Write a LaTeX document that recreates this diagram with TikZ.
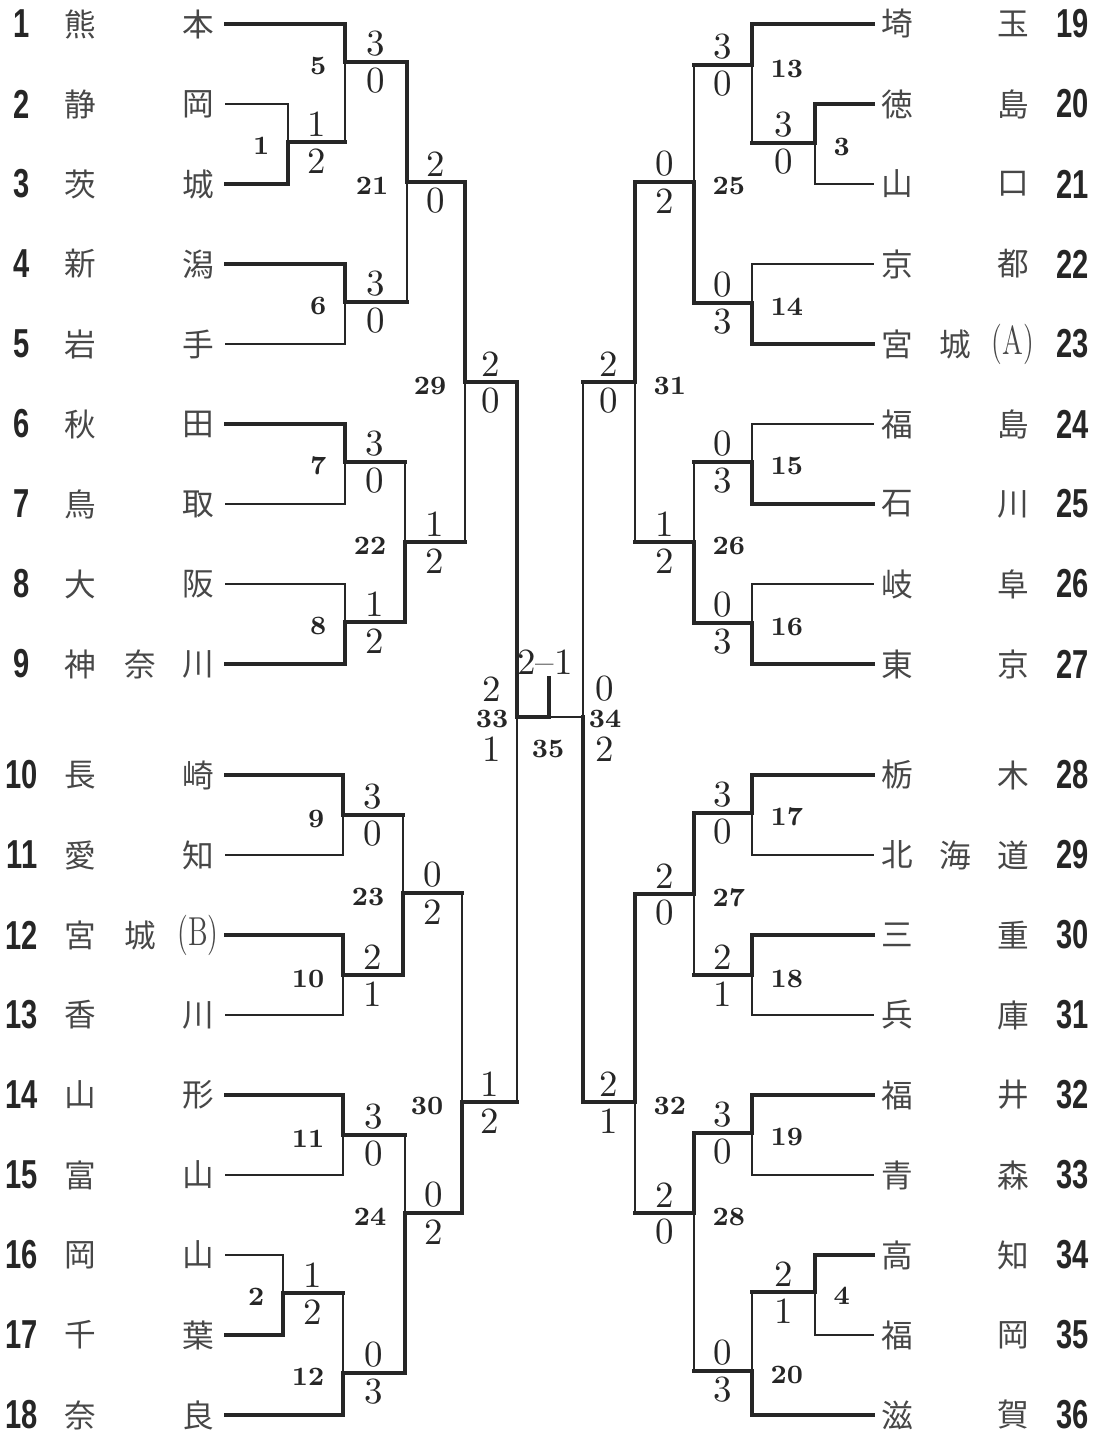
\documentclass[tikz,border=0pt]{standalone}
\usepackage{fontspec}
\usepackage{graphicx}
\newfontfamily\jpfont{Noto Sans CJK JP}
\newfontfamily\seedfont{Liberation Sans}
\definecolor{ink}{RGB}{38,38,38}
\newcommand{\seedno}[1]{\scalebox{0.72}[1]{#1}}
\newcommand{\subtag}[1]{{\rmfamily\fontsize{11.5}{12}\selectfont\scalebox{0.7}[1]{(#1)}}}

\begin{document}
\begin{tikzpicture}[x=0.01cm, y=-0.01cm,
  won/.style={draw=ink, line width=0.9pt, line cap=rect},
  lost/.style={draw=ink, line width=0.4pt, line cap=rect},
  seed/.style={font=\seedfont\bfseries\fontsize{11.5}{12}\selectfont, text=ink, inner sep=0pt},
  pref/.style={font=\jpfont\fontsize{9}{10}\selectfont, text=ink!85, inner sep=1pt},
  score/.style={font=\fontsize{10.5}{11}\selectfont, text=ink, inner sep=0pt},
  mno/.style={font=\bfseries\fontsize{7.5}{8}\selectfont, text=ink, inner sep=0pt}]
% pixel grid of the scan: x right, y down, 80 px per entry row
\useasboundingbox (0,0) rectangle (1100,1435);

% Left half: seed / first char / last char / row y / first bracket x / line
\foreach \n/\a/\c/\y/\vx/\s in {
  1/熊/本/24/345/won, 2/静/岡/104/288/lost, 3/茨/城/184/288/won,
  4/新/潟/264/345/won, 5/岩/手/344/345/lost, 6/秋/田/424/345/won,
  7/鳥/取/504/345/lost, 8/大/阪/584/345/lost, 9/神/川/664/345/won,
  10/長/崎/775/343/won, 11/愛/知/855/343/lost, 12/宮/\subtag{B}/935/343/won,
  13/香/川/1015/343/lost, 14/山/形/1095/343/won, 15/富/山/1175/343/lost,
  16/岡/山/1255/283/lost, 17/千/葉/1335/283/won, 18/奈/良/1415/343/won}{
  \node[seed] (ln\n) at (22,\y) {\seedno{\n}};
  \node[pref] (la\n) at (80,\y) {\a};
  \node[pref] (lc\n) at (198,\y) {\c};
  \draw[\s] (226,\y) -- (\vx,\y);
}
\node[pref] (lm9) at (140,664) {奈};
\node[pref] (lm12) at (140,935) {城};

% Right half, mirrored
\foreach \n/\a/\c/\y/\vx/\s in {
  19/埼/玉/24/752/won, 20/徳/島/104/815/won, 21/山/口/184/815/lost,
  22/京/都/264/752/lost, 23/宮/\subtag{A}/344/752/won, 24/福/島/424/752/lost,
  25/石/川/504/752/won, 26/岐/阜/584/752/lost, 27/東/京/664/752/won,
  28/栃/木/775/752/won, 29/北/道/855/752/lost, 30/三/重/935/752/won,
  31/兵/庫/1015/752/lost, 32/福/井/1095/752/won, 33/青/森/1175/752/lost,
  34/高/知/1255/815/won, 35/福/岡/1335/815/lost, 36/滋/賀/1415/752/won}{
  \node[seed] (rn\n) at (1073,\y) {\seedno{\n}};
  \node[pref] (ra\n) at (897,\y) {\a};
  \node[pref] (rc\n) at (1013,\y) {\c};
  \draw[\s] (\vx,\y) -- (873,\y);
}
\node[pref] (rm23) at (955,344) {城};
\node[pref] (rm29) at (955,855) {海};

% Left matches: no / bracket x / top y / bottom y / out y / next x / top / bottom / scores
\foreach \m/\vx/\ty/\by/\oy/\nx/\ts/\bs/\sa/\sb in {
  1/288/104/184/142/345/lost/won/1/2, 5/345/24/142/62/407/won/lost/3/0,
  6/345/264/344/302/407/won/lost/3/0, 21/407/62/302/182/465/won/lost/2/0,
  7/345/424/504/462/405/won/lost/3/0, 8/345/584/664/622/405/lost/won/1/2,
  22/405/462/622/542/465/lost/won/1/2, 29/465/182/542/382/517/won/lost/2/0,
  9/343/775/855/815/403/won/lost/3/0, 10/343/935/1015/975/403/won/lost/2/1,
  23/403/815/975/893/462/lost/won/0/2, 11/343/1095/1175/1135/405/won/lost/3/0,
  2/283/1255/1335/1293/343/lost/won/1/2, 12/343/1293/1415/1373/405/lost/won/0/3,
  24/405/1135/1373/1213/462/lost/won/0/2, 30/462/893/1213/1102/517/lost/won/1/2}{
  \draw[\ts] (\vx,\ty) -- (\vx,\oy);
  \draw[\bs] (\vx,\oy) -- (\vx,\by);
  \draw[won] (\vx,\oy) coordinate (lm\m) -- (\nx,\oy);
  \node[mno, anchor=east] (lk\m) at (\vx-18,\oy+4) {\m};
  \node[score] (lsa\m) at ({(\vx+\nx)/2},\oy-18) {\sa};
  \node[score] (lsb\m) at ({(\vx+\nx)/2},\oy+19) {\sb};
}

% Right matches
\foreach \m/\vx/\ty/\by/\oy/\nx/\ts/\bs/\sa/\sb in {
  3/815/104/184/143/752/won/lost/3/0, 13/752/24/143/65/694/won/lost/3/0,
  14/752/264/344/303/694/lost/won/0/3, 25/694/65/303/182/635/lost/won/0/2,
  15/752/424/504/462/694/lost/won/0/3, 16/752/584/664/623/694/lost/won/0/3,
  26/694/462/623/542/635/lost/won/1/2, 31/635/182/542/382/583/won/lost/2/0,
  17/752/775/855/813/694/won/lost/3/0, 18/752/935/1015/975/694/won/lost/2/1,
  27/694/813/975/894/635/won/lost/2/0, 19/752/1095/1175/1133/694/won/lost/3/0,
  4/815/1255/1335/1292/752/won/lost/2/1, 20/752/1292/1415/1371/694/lost/won/0/3,
  28/694/1133/1371/1213/635/won/lost/2/0, 32/635/894/1213/1102/583/won/lost/2/1}{
  \draw[\ts] (\vx,\ty) -- (\vx,\oy);
  \draw[\bs] (\vx,\oy) -- (\vx,\by);
  \draw[won] (\vx,\oy) coordinate (rm\m) -- (\nx,\oy);
  \node[mno, anchor=west] (rk\m) at (\vx+18,\oy+4) {\m};
  \node[score] (rsa\m) at ({(\vx+\nx)/2},\oy-18) {\sa};
  \node[score] (rsb\m) at ({(\vx+\nx)/2},\oy+19) {\sb};
}

% Semi-finals 33, 34 and the final 35
\coordinate (sf33) at (517,717);
\coordinate (sf34) at (583,717);
\coordinate (fin) at (549,717);
\coordinate (champ) at (549,678);
\draw[won] (517,382) -- (sf33);
\draw[lost] (sf33) -- (517,1102);
\draw[lost] (583,382) -- (sf34);
\draw[won] (sf34) -- (583,1102);
\draw[won] (sf33) -- (fin) -- (champ);
\draw[lost] (fin) -- (sf34);
\node[score] (s33a) at (492,689) {2};
\node[mno] (k33) at (492,719) {33};
\node[score] (s33b) at (492,749) {1};
\node[score] (s34a) at (605,689) {0};
\node[mno] (k34) at (605,719) {34};
\node[score] (s34b) at (605,749) {2};
\node[mno] (k35) at (548,749) {35};
\node[score] (s35) at (545,662) {2--1};
\end{tikzpicture}
\end{document}
